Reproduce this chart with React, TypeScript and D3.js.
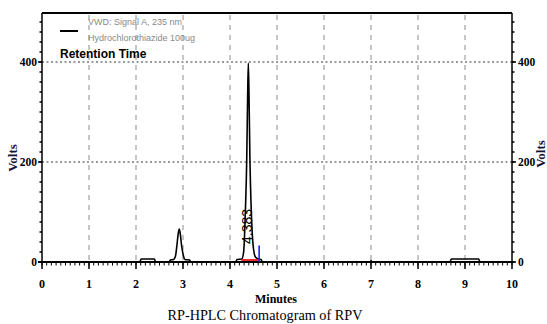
import React from "react";
import * as d3 from "d3";

// ---- data ----
const times = [
  0, 2.08, 2.11, 2.39, 2.42, 2.70, 2.73, 2.80, 2.84, 2.87, 2.90, 2.92, 2.94, 2.97, 3.01, 3.04, 3.14, 3.17,
  4.12, 4.15, 4.25, 4.29, 4.33, 4.355, 4.375, 4.39, 4.405, 4.425, 4.45, 4.49, 4.54, 4.60, 4.66, 4.69,
  6.99, 7.0, 7.01, 8.68, 8.71, 9.29, 9.32, 10,
];
const volts = [
  0, 0, 6, 6, 0, 0, 4, 5, 12, 33, 58, 66, 58, 33, 12, 5, 4, 0,
  0, 5, 6, 20, 110, 200, 330, 398, 330, 200, 110, 35, 10, 6, 5, 0,
  0, 3, 0, 0, 6, 6, 0, 0,
];
const xTickValues = [0, 1, 2, 3, 4, 5, 6, 7, 8, 9, 10];
const yTickValues = [0, 200, 400];
const peakRT = ["4.383"];
const peakTime = [4.383];
const baselineStart = [4.24];
const baselineEnd = [4.62];
const baselineLevel = [4];
const markerHeight = [33];
const legendLines = ["VWD: Signal A, 235 nm", "Hydrochlorothiazide  100ug"];
const legendTitle = "Retention Time";
const xTitle = "Minutes";
const yTitle = "Volts";
const chartTitle = "RP-HPLC Chromatogram of RPV";

const W = 547, H = 324;
const L = 42, R = 512, T = 13, B = 262;

export default function App() {
  const x = d3.scaleLinear().domain([0, 10]).range([L, R]);
  const y = d3.scaleLinear().domain([0, 498]).range([B, T]);
  const pts = times.map((t, i) => [t, volts[i]] as [number, number]);
  const line = d3.line<[number, number]>().x(d => x(d[0])).y(d => y(d[1])).curve(d3.curveMonotoneX);
  const minorX = d3.range(0, 100.5, 1).map(v => v / 10);
  const minorY = d3.range(0, 25, 1).map(v => v * 20);
  const serif = "'Liberation Serif', 'Times New Roman', serif";
  const narrow = "'Liberation Sans Narrow', 'Liberation Sans', Arial, sans-serif";

  return (
    <svg width={W} height={H} style={{ position: "absolute", left: 0, top: 0, background: "#fff" }}>
      <rect x={0} y={0} width={W} height={H} fill="#fff" />
      {/* grid */}
      {xTickValues.filter(v => v > 0 && v < 10).map(v => (
        <line key={"gx" + v} x1={x(v)} x2={x(v)} y1={T + 2} y2={B} stroke="#8c8c8c" strokeWidth={1} strokeDasharray="5,5" />
      ))}
      {yTickValues.filter(v => v > 0).map(v => (
        <line key={"gy" + v} x1={L} x2={R} y1={y(v)} y2={y(v)} stroke="#7a7a7a" strokeWidth={1.3} strokeDasharray="2,2.5" />
      ))}
      {/* frame */}
      <line x1={L} x2={R} y1={T} y2={T} stroke="#000" strokeWidth={2} />
      <line x1={L} x2={L} y1={T} y2={B} stroke="#000" strokeWidth={1.5} />
      <line x1={R} x2={R} y1={T} y2={B} stroke="#000" strokeWidth={1.5} />
      {/* y ticks */}
      {minorY.map(v => (
        <g key={"my" + v}>
          <line x1={L - 2.5} x2={L} y1={y(v)} y2={y(v)} stroke="#000" strokeWidth={1.5} />
          <line x1={R} x2={R + 2.5} y1={y(v)} y2={y(v)} stroke="#000" strokeWidth={1.5} />
        </g>
      ))}
      {yTickValues.map(v => (
        <g key={"ty" + v}>
          <line x1={L - 4} x2={L} y1={y(v)} y2={y(v)} stroke="#000" strokeWidth={1.5} />
          <line x1={R} x2={R + 4} y1={y(v)} y2={y(v)} stroke="#000" strokeWidth={1.5} />
          <text x={L - 5} y={y(v)} dy="0.35em" textAnchor="end" fontFamily={serif} fontWeight="bold" fontSize={11.5}>{v}</text>
          <text x={R + 6} y={y(v)} dy="0.35em" textAnchor="start" fontFamily={serif} fontWeight="bold" fontSize={11.5}>{v}</text>
        </g>
      ))}
      {/* x ticks */}
      {minorX.map(v => (
        <line key={"mx" + v} x1={x(v)} x2={x(v)} y1={B} y2={B + 3.5} stroke="#000" strokeWidth={1} />
      ))}
      {xTickValues.map(v => (
        <g key={"tx" + v}>
          <line x1={x(v)} x2={x(v)} y1={B} y2={B + 7} stroke="#000" strokeWidth={1.5} />
          <text x={x(v)} y={287.5} textAnchor="middle" fontFamily={serif} fontWeight="bold" fontSize={12}>{v}</text>
        </g>
      ))}
      {/* baseline axis */}
      <line x1={L - 4} x2={R} y1={B} y2={B} stroke="#000" strokeWidth={2.2} />
      {/* trace */}
      <path d={line(pts) || ""} fill="none" stroke="#000" strokeWidth={1.6} />
      {/* integration marks */}
      {baselineStart.map((s, i) => (
        <g key={"bl" + i}>
          <line x1={x(s)} x2={x(baselineEnd[i])} y1={y(baselineLevel[i])} y2={y(baselineLevel[i])} stroke="#e8141e" strokeWidth={1.8} />
          <line x1={x(baselineEnd[i])} x2={x(baselineEnd[i])} y1={y(0)} y2={y(markerHeight[i])} stroke="#1c22e0" strokeWidth={1.6} />
        </g>
      ))}
      {peakRT.map((lab, i) => (
        <text key={"rt" + i} transform={`translate(${x(peakTime[i]) + 4},${244}) rotate(-90)`} fontFamily={narrow} fontSize={14} fill="#000">{lab}</text>
      ))}
      {/* legend */}
      <line x1={60} x2={78} y1={31} y2={31} stroke="#000" strokeWidth={2} />
      <text x={88} y={25} fontFamily={narrow} fontSize={9} fill="#8a8a8a">{legendLines[0]}</text>
      <text x={88} y={41} fontFamily={narrow} fontSize={9} fill="#8a8a8a">{legendLines[1]}</text>
      <text x={60} y={58} fontFamily={narrow} fontWeight="bold" fontSize={12} fill="#000">{legendTitle}</text>
      {/* axis titles */}
      <text x={276} y={302.5} textAnchor="middle" fontFamily={serif} fontWeight="bold" fontSize={12} textLength={42} lengthAdjust="spacingAndGlyphs">{xTitle}</text>
      <text transform="translate(17,158) rotate(-90)" textAnchor="middle" fontFamily={serif} fontWeight="bold" fontSize={13} fill="#141436">{yTitle}</text>
      <text transform="translate(545,154) rotate(-90)" textAnchor="middle" fontFamily={serif} fontWeight="bold" fontSize={13} fill="#141436">{yTitle}</text>
      <text x={265} y={320} textAnchor="middle" fontFamily={serif} fontSize={15.5} fill="#000" textLength={195} lengthAdjust="spacingAndGlyphs">{chartTitle}</text>
    </svg>
  );
}
